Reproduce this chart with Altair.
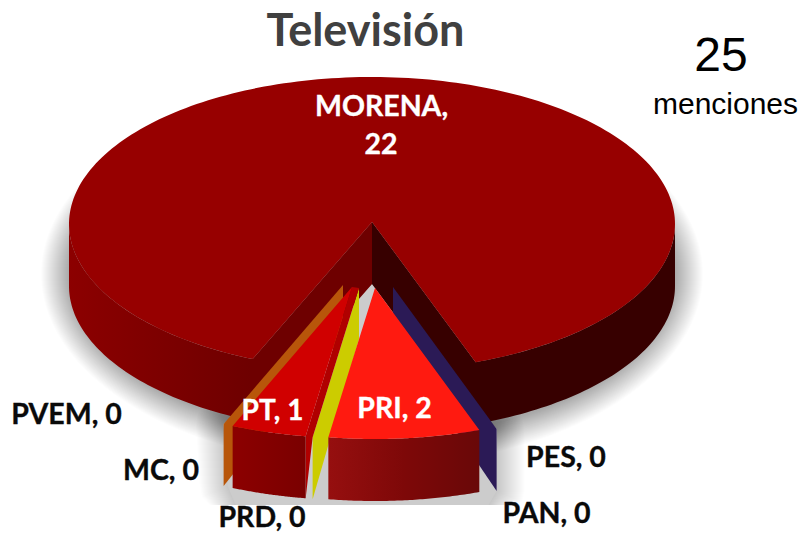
import math
import altair as alt
import pandas as pd

# ---- data ----
CATEGORIES = ["PES", "PAN", "PRI", "PRD", "PT", "MC", "PVEM", "MORENA"]
VALUES = [0, 0, 2, 0, 1, 0, 0, 22]
TOTAL_LABEL = "25"
TOTAL_WORD = "menciones"
TITLE = "Televisión"

# ---- view geometry ----
ROT = 160.0
RX = 303.0
RY = 147.0
RY_NEAR = 149.0
CX, APEX_Y, CY = 372.0, 222.0, 224.0
DEPTH = 62.0
DEPTH_INNER = 51.0
FLOOR = 505.0
SHIFT = {"PES": (21, 65), "PAN": (21, 65), "PRI": (3, 66), "PRD": (-13, 66), "PT": (-20, 65), "MC": (-29, 63), "PVEM": (-29, 63)}

total = sum(VALUES)
angles = {}
a = ROT
for c, v in zip(CATEGORIES, VALUES):
    angles[c] = (a, a + v / total * 360)
    a += v / total * 360


def rim(angle, cx=CX, cy=CY, rx=RX, ry=RY, dy=0.0):
    r = math.radians(angle)
    return (cx + rx * math.sin(r), cy - ry * math.cos(r) + dy)


def arc(a0, a1, n=60, **kw):
    return [rim(a0 + (a1 - a0) * i / n, **kw) for i in range(n + 1)]


def feat(points, fill="#000000", op=1.0):
    pts = [[round(x, 2), round(y, 2)] for x, y in points]
    pts.append(pts[0])
    return {"type": "Feature", "properties": {"fill": fill, "op": op},
            "geometry": {"type": "Polygon", "coordinates": [pts]}}


def flat(features):
    return alt.Chart(alt.Data(values=features)).mark_geoshape().encode(
        fill=alt.Fill("properties.fill:N", scale=None),
        fillOpacity=alt.FillOpacity("properties.op:Q", scale=None),
    ).project(type="identity", scale=1, translate=[-8, -8])


def grad(points, stops):
    g = alt.Gradient(gradient="linear", x1=0, x2=1, y1=0, y2=0,
                     stops=[alt.GradientStop(color=c, offset=o) for o, c in stops])
    return alt.Chart(alt.Data(values=[feat(points)])).mark_geoshape(fill=g).project(
        type="identity", scale=1, translate=[-8, -8])


def wall(c, angle):
    """Flat radial face of a detached slice."""
    dx, dy = SHIFT[c]
    ax, ay = CX + dx, APEX_Y + dy
    p = rim(angle, cx=ax, cy=ay + 2, ry=RY_NEAR)
    return [(ax, ay), p, (p[0], p[1] + DEPTH), (ax, ay + DEPTH_INNER)]


def hull(points):
    pts = sorted(set(points))

    def half(seq):
        out = []
        for p in seq:
            while len(out) > 1 and ((out[-1][0] - out[-2][0]) * (p[1] - out[-2][1])
                                    - (out[-1][1] - out[-2][1]) * (p[0] - out[-2][0])) <= 0:
                out.pop()
            out.append(p)
        return out[:-1]

    return half(pts) + half(pts[::-1])


def grown(points, r):
    out = []
    for x, y in points:
        for i in range(16):
            t = i / 16 * 2 * math.pi
            out.append((x + r * math.cos(t), y + r * math.sin(t)))
    return [(x, min(y, FLOOR)) for x, y in hull(out)]


layers = []
m0, m1 = angles["MORENA"]

# soft shadows
shadow = []
for k in range(28, -1, -1):
    shadow.append(feat(arc(0, 360, n=120, cy=274, rx=RX + k, ry=RY + 17 + k), "#000000", 0.0115))
w_pes = wall("PES", angles["PES"][0])
w_pvem = wall("PVEM", angles["PVEM"][0])
core = [(CX, APEX_Y + DEPTH), (w_pes[2][0], w_pes[2][1]), (w_pes[1][0], w_pes[1][1]),
        (w_pvem[2][0] + 4, w_pvem[2][1]), (w_pvem[1][0], w_pvem[1][1]),
        (w_pvem[2][0] + 12, FLOOR), (w_pes[2][0] - 8, FLOOR)]
for k in range(28, 0, -1):
    shadow.append(feat(grown(core, k), "#000000", 0.0095))
shadow.append(feat(hull(core), "#cccccc", 1.0))
layers.append(flat(shadow))

# MORENA outer wall and gap walls, one shape on each side of the gap
apex = (CX, APEX_Y)
apex_down = (CX, APEX_Y + DEPTH)
layers.append(flat([feat([apex] + arc(ROT, 90) + arc(90, ROT, dy=DEPTH) + [apex_down], "#370000")]))
layers.append(grad([apex] + arc(m0, 270) + arc(270, m0, dy=DEPTH) + [apex_down],
                   [(0, "#8c0000"), (0.6, "#6e0000"), (1, "#6e0000")]))
# MORENA top
layers.append(flat([feat([apex] + arc(m0, m1, n=240), "#970000")]))

# zero-value slices drawn as thin walls
layers.append(flat([
    feat(w_pes, "#2b1a56"),
    feat(w_pvem, "#b8560a"),
    feat(wall("PRD", angles["PRD"][0]), "#cccc00"),
]))

# PT
dx, dy = SHIFT["PT"]
ptx, pty = CX + dx, APEX_Y + dy
t0, t1 = angles["PT"]
kw = dict(cx=ptx, cy=pty + 2, ry=RY_NEAR)
yw = wall("PRD", angles["PRD"][0])
pt_in = rim(t0, **kw)
layers.append(flat([feat([(ptx, pty), yw[0], yw[1], (pt_in[0], pt_in[1] + DEPTH), pt_in], "#b00000")]))
layers.append(grad(arc(t0, t1, **kw) + arc(t1, t0, dy=DEPTH, **kw), [(0, "#8c0000"), (1, "#7a0000")]))
layers.append(flat([feat([(ptx, pty)] + arc(t0, t1, **kw), "#d00000")]))

# PRI
dx, dy = SHIFT["PRI"]
prx, pry = CX + dx, APEX_Y + dy
r0, r1 = angles["PRI"]
kw = dict(cx=prx, cy=pry + 2, ry=RY_NEAR, rx=RX + 2)
layers.append(grad(arc(r0, r1, **kw) + arc(r1, r0, dy=DEPTH, **kw),
                   [(0, "#960f0f"), (0.5, "#7e0808"), (1, "#690808")]))
layers.append(flat([feat([(prx, pry)] + arc(r0, r1, **kw), "#ff1a10")]))

# ---- text ----
VAL = dict(zip(CATEGORIES, VALUES))
FONT = "Lato"
LABEL_POS = {"PVEM": (66.5, 424), "MC": (161, 480), "PRD": (262, 527), "PES": (566, 467), "PAN": (546.5, 523)}
WHITE_POS = {"PT": (272.5, 420), "PRI": (394.5, 418)}


def txt(text, x, y, **kw):
    return alt.Chart(pd.DataFrame({"t": [text]})).mark_text(baseline="alphabetic", align="center", **kw).encode(
        text="t:N", x=alt.value(x - 8), y=alt.value(y - 8))


def label(text, x, y, color, size=28.5):
    return txt(text, x, y, font=FONT, fontWeight="bold", fontSize=size, color=color, stroke=color, strokeWidth=0.35)


for c, (x, y) in LABEL_POS.items():
    layers.append(label(f"{c}, {VAL[c]}", x, y, "#0a0a0a"))
for c, (x, y) in WHITE_POS.items():
    layers.append(label(f"{c}, {VAL[c]}", x, y, "#ffffff", 28 if c == "PT" else 28.5))
layers.append(label("MORENA,", 381.5, 116, "#ffffff"))
layers.append(label(str(VAL["MORENA"]), 381, 154, "#ffffff"))
layers.append(txt(TITLE, 365.5, 46, font=FONT, fontWeight="bold", fontSize=45, color="#404040"))
layers.append(txt(TOTAL_LABEL, 721, 71, font="Liberation Sans", fontSize=48, color="#000000"))
layers.append(txt(TOTAL_WORD, 725.5, 114, font="Liberation Sans", fontSize=30, color="#000000"))

chart = alt.layer(*layers).properties(width=793, height=526, padding=0, autosize="none").configure_view(stroke=None)
chart.save("out.html", embed_options={"renderer": "svg", "actions": False})
